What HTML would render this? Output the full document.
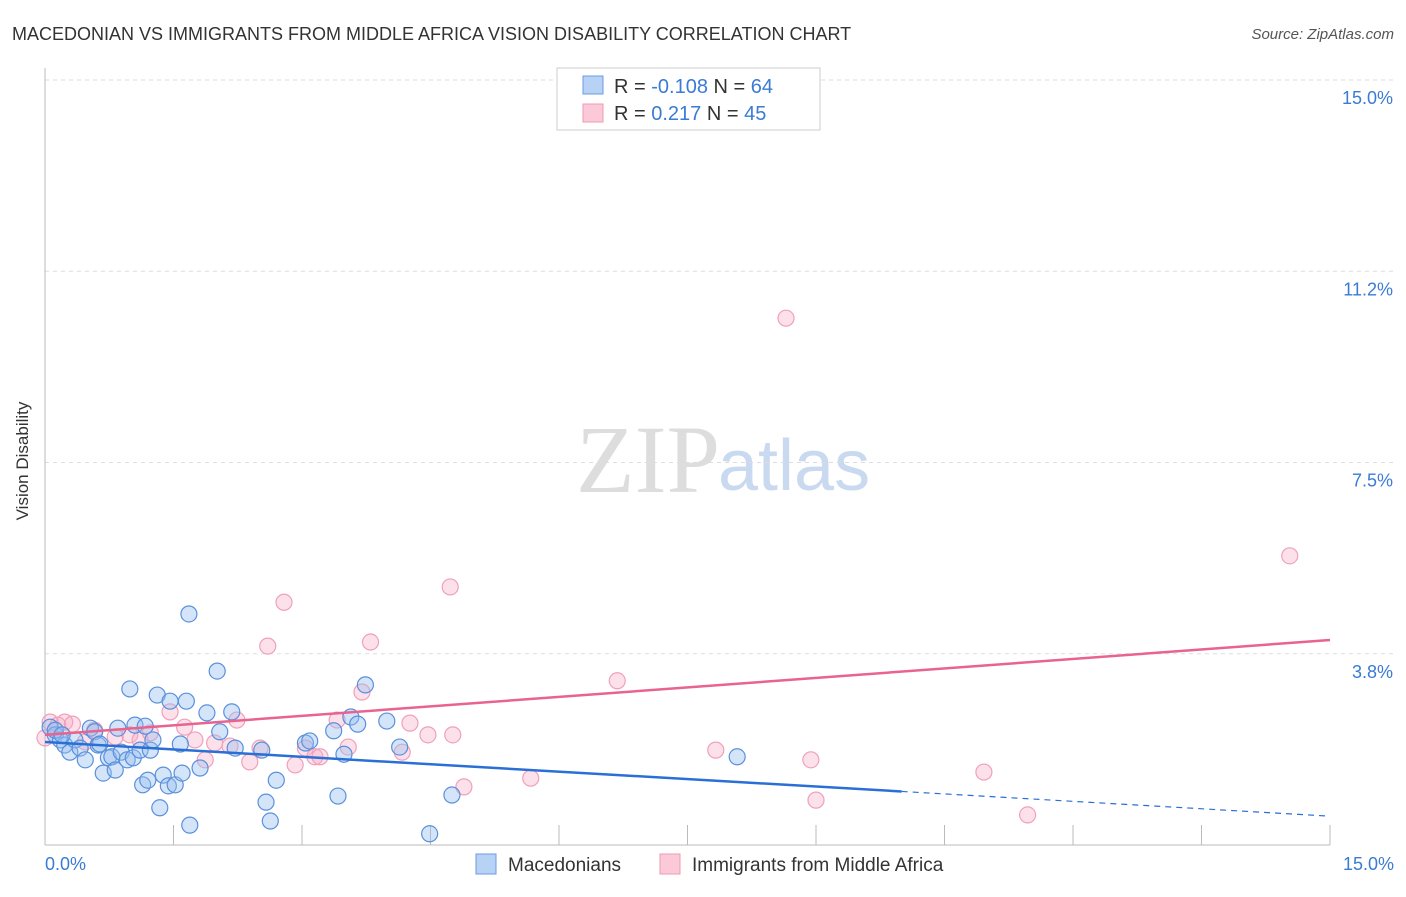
<!DOCTYPE html>
<html><head><meta charset="utf-8"><style>
body{margin:0;background:#fff;font-family:"Liberation Sans",sans-serif;}
</style></head><body>
<svg width="1406" height="892" xmlns="http://www.w3.org/2000/svg" font-family="Liberation Sans, sans-serif">
<text x="12" y="40" font-size="18" fill="#333">MACEDONIAN VS IMMIGRANTS FROM MIDDLE AFRICA VISION DISABILITY CORRELATION CHART</text>
<text x="1394" y="39" font-size="15" fill="#555" font-style="italic" text-anchor="end">Source: ZipAtlas.com</text>
<text x="720" y="492" font-size="96" fill="#ddd" text-anchor="end" font-family="Liberation Serif, serif">ZIP</text>
<text x="718" y="490" font-size="72" fill="#c9daf0">atlas</text>
<g id="grid"></g>
<line x1="45" y1="68" x2="45" y2="845" stroke="#bbb"/>
<line x1="45" y1="845" x2="1330" y2="845" stroke="#bbb"/>
<text x="22" y="455" font-size="17" fill="#333" transform="rotate(-90 28 455)" text-anchor="middle">Vision Disability</text>
<text x="45" y="870" font-size="18" fill="#3a7bd5">0.0%</text>
<text x="1394" y="870" font-size="18" fill="#3a7bd5" text-anchor="end">15.0%</text>
<g id="pts"></g>
<g id="lines"></g>
<g>
<rect x="557" y="68" width="263" height="62" fill="#fff" stroke="#ccc"/>
<rect x="583" y="76" width="20" height="18" fill="#b7d2f5" stroke="#6a9be0"/>
<rect x="583" y="104" width="20" height="18" fill="#fcc9d8" stroke="#ee9ab4"/>
<text x="614" y="93" font-size="20" fill="#333">R = <tspan fill="#3a7bd5">-0.108</tspan>   N = <tspan fill="#3a7bd5">64</tspan></text>
<text x="614" y="120" font-size="20" fill="#333">R =   <tspan fill="#3a7bd5">0.217</tspan>   N = <tspan fill="#3a7bd5">45</tspan></text>
</g>
<g>
<rect x="476" y="854" width="20" height="20" fill="#b7d2f5" stroke="#6a9be0"/>
<text x="508" y="871" font-size="19" fill="#333">Macedonians</text>
<rect x="660" y="854" width="20" height="20" fill="#fcc9d8" stroke="#ee9ab4"/>
<text x="692" y="871" font-size="19" fill="#333">Immigrants from Middle Africa</text>
</g>
</svg>
<script>
const yTicks=[3.75,7.5,11.25,15];
const yTickLabels=["3.8%","7.5%","11.2%","15.0%"];
const xTicks=[1.5,3,4.5,6,7.5,9,10.5,12,13.5,15];
const blueX=[0.06,0.12,0.18,0.23,0.29,0.35,0.41,0.47,0.53,0.58,0.62,0.68,0.74,0.78,0.82,0.85,0.89,0.96,0.99,1.03,1.05,1.11,1.14,1.2,1.23,1.26,1.31,1.34,1.38,1.44,1.46,1.52,1.58,1.6,1.65,1.69,1.68,1.81,1.89,2.01,2.04,2.18,2.22,2.53,2.58,2.63,2.7,3.04,3.09,3.37,3.42,3.49,3.57,3.65,3.74,3.99,4.14,4.49,4.75,8.08,0.12,0.2,0.64,1.17];
const blueY=[2.31,2.16,2.06,1.96,1.82,2.06,1.9,1.67,2.29,2.22,1.96,1.41,1.71,1.73,1.47,2.29,1.82,1.67,3.06,1.71,2.35,1.86,1.18,1.27,1.86,2.06,2.94,0.73,1.37,1.16,2.82,1.18,1.98,1.41,2.82,0.39,4.53,1.51,2.59,3.41,2.22,2.61,1.9,1.86,0.84,0.47,1.27,2.0,2.04,2.24,0.96,1.78,2.51,2.37,3.14,2.43,1.92,0.22,0.98,1.73,2.25,2.16,1.98,2.33];
const pinkX=[0.06,0.15,0.23,0.32,0.47,0.58,0.82,0.99,1.11,1.23,1.46,1.63,1.75,1.87,1.98,2.16,2.24,2.39,2.51,2.6,2.79,2.92,3.04,3.15,3.21,3.41,3.54,3.7,3.8,4.17,4.26,4.47,4.73,4.76,4.89,5.67,6.68,7.83,8.94,9.0,8.65,10.96,11.47,14.53,0.0];
const pinkY=[2.41,2.35,2.41,2.37,2.02,2.25,2.12,2.16,2.06,2.2,2.61,2.31,2.06,1.67,2.0,1.94,2.45,1.63,1.9,3.9,4.76,1.57,1.9,1.73,1.73,2.45,1.92,3.0,3.98,1.82,2.39,2.16,5.06,2.16,1.14,1.31,3.22,1.86,1.67,0.88,10.33,1.43,0.59,5.67,2.10];
const blueTrend=[2.02,-0.097];
const pinkTrend=[2.16,0.124];
const X=v=>45+v/15*1285, Y=v=>845-v/15*765;
const NS="http://www.w3.org/2000/svg";
function mk(t,a,p){const e=document.createElementNS(NS,t);for(const k in a)e.setAttribute(k,a[k]);p.appendChild(e);return e;}
const grid=document.getElementById('grid');
yTicks.forEach((t,i)=>{
 const l=mk('line',{x1:45,x2:1394,y1:Y(t),y2:Y(t),stroke:'#ddd','stroke-dasharray':'4,4'},grid);
 
 
 const tx=mk('text',{x:1393,y:Y(t)+24,'font-size':18,fill:'#3a7bd5','text-anchor':'end'},grid);
 tx.textContent=yTickLabels[i];
 
 
});
xTicks.forEach(t=>{
 const l=mk('line',{x1:X(t),x2:X(t),y1:825,y2:845,stroke:'#bbb'},grid);
 
 
});
const pts=document.getElementById('pts');
pinkX.forEach((x,i)=>{
 const c=mk('circle',{cx:X(x),cy:Y(pinkY[i]),r:8,fill:'rgba(248,170,195,0.35)',stroke:'#f0a0ba','stroke-width':1.2},pts);
 
 
});
blueX.forEach((x,i)=>{
 const c=mk('circle',{cx:X(x),cy:Y(blueY[i]),r:8,fill:'rgba(150,190,240,0.4)',stroke:'#5a90dc','stroke-width':1.2},pts);
 
 
});
const lines=document.getElementById('lines');
const ly=(tr,x)=>Y(tr[0]+tr[1]*x);
let a=mk('line',{x1:X(0),y1:ly(blueTrend,0),x2:X(10),y2:ly(blueTrend,10),stroke:'#2a6fd6','stroke-width':2.5},lines);


a=mk('line',{x1:X(10),y1:ly(blueTrend,10),x2:X(15),y2:ly(blueTrend,15),stroke:'#2a6fd6','stroke-width':1.2,'stroke-dasharray':'6,5'},lines);


a=mk('line',{x1:X(0),y1:ly(pinkTrend,0),x2:X(15),y2:ly(pinkTrend,15),stroke:'#e8638e','stroke-width':2.5},lines);


</script>
</body></html>
